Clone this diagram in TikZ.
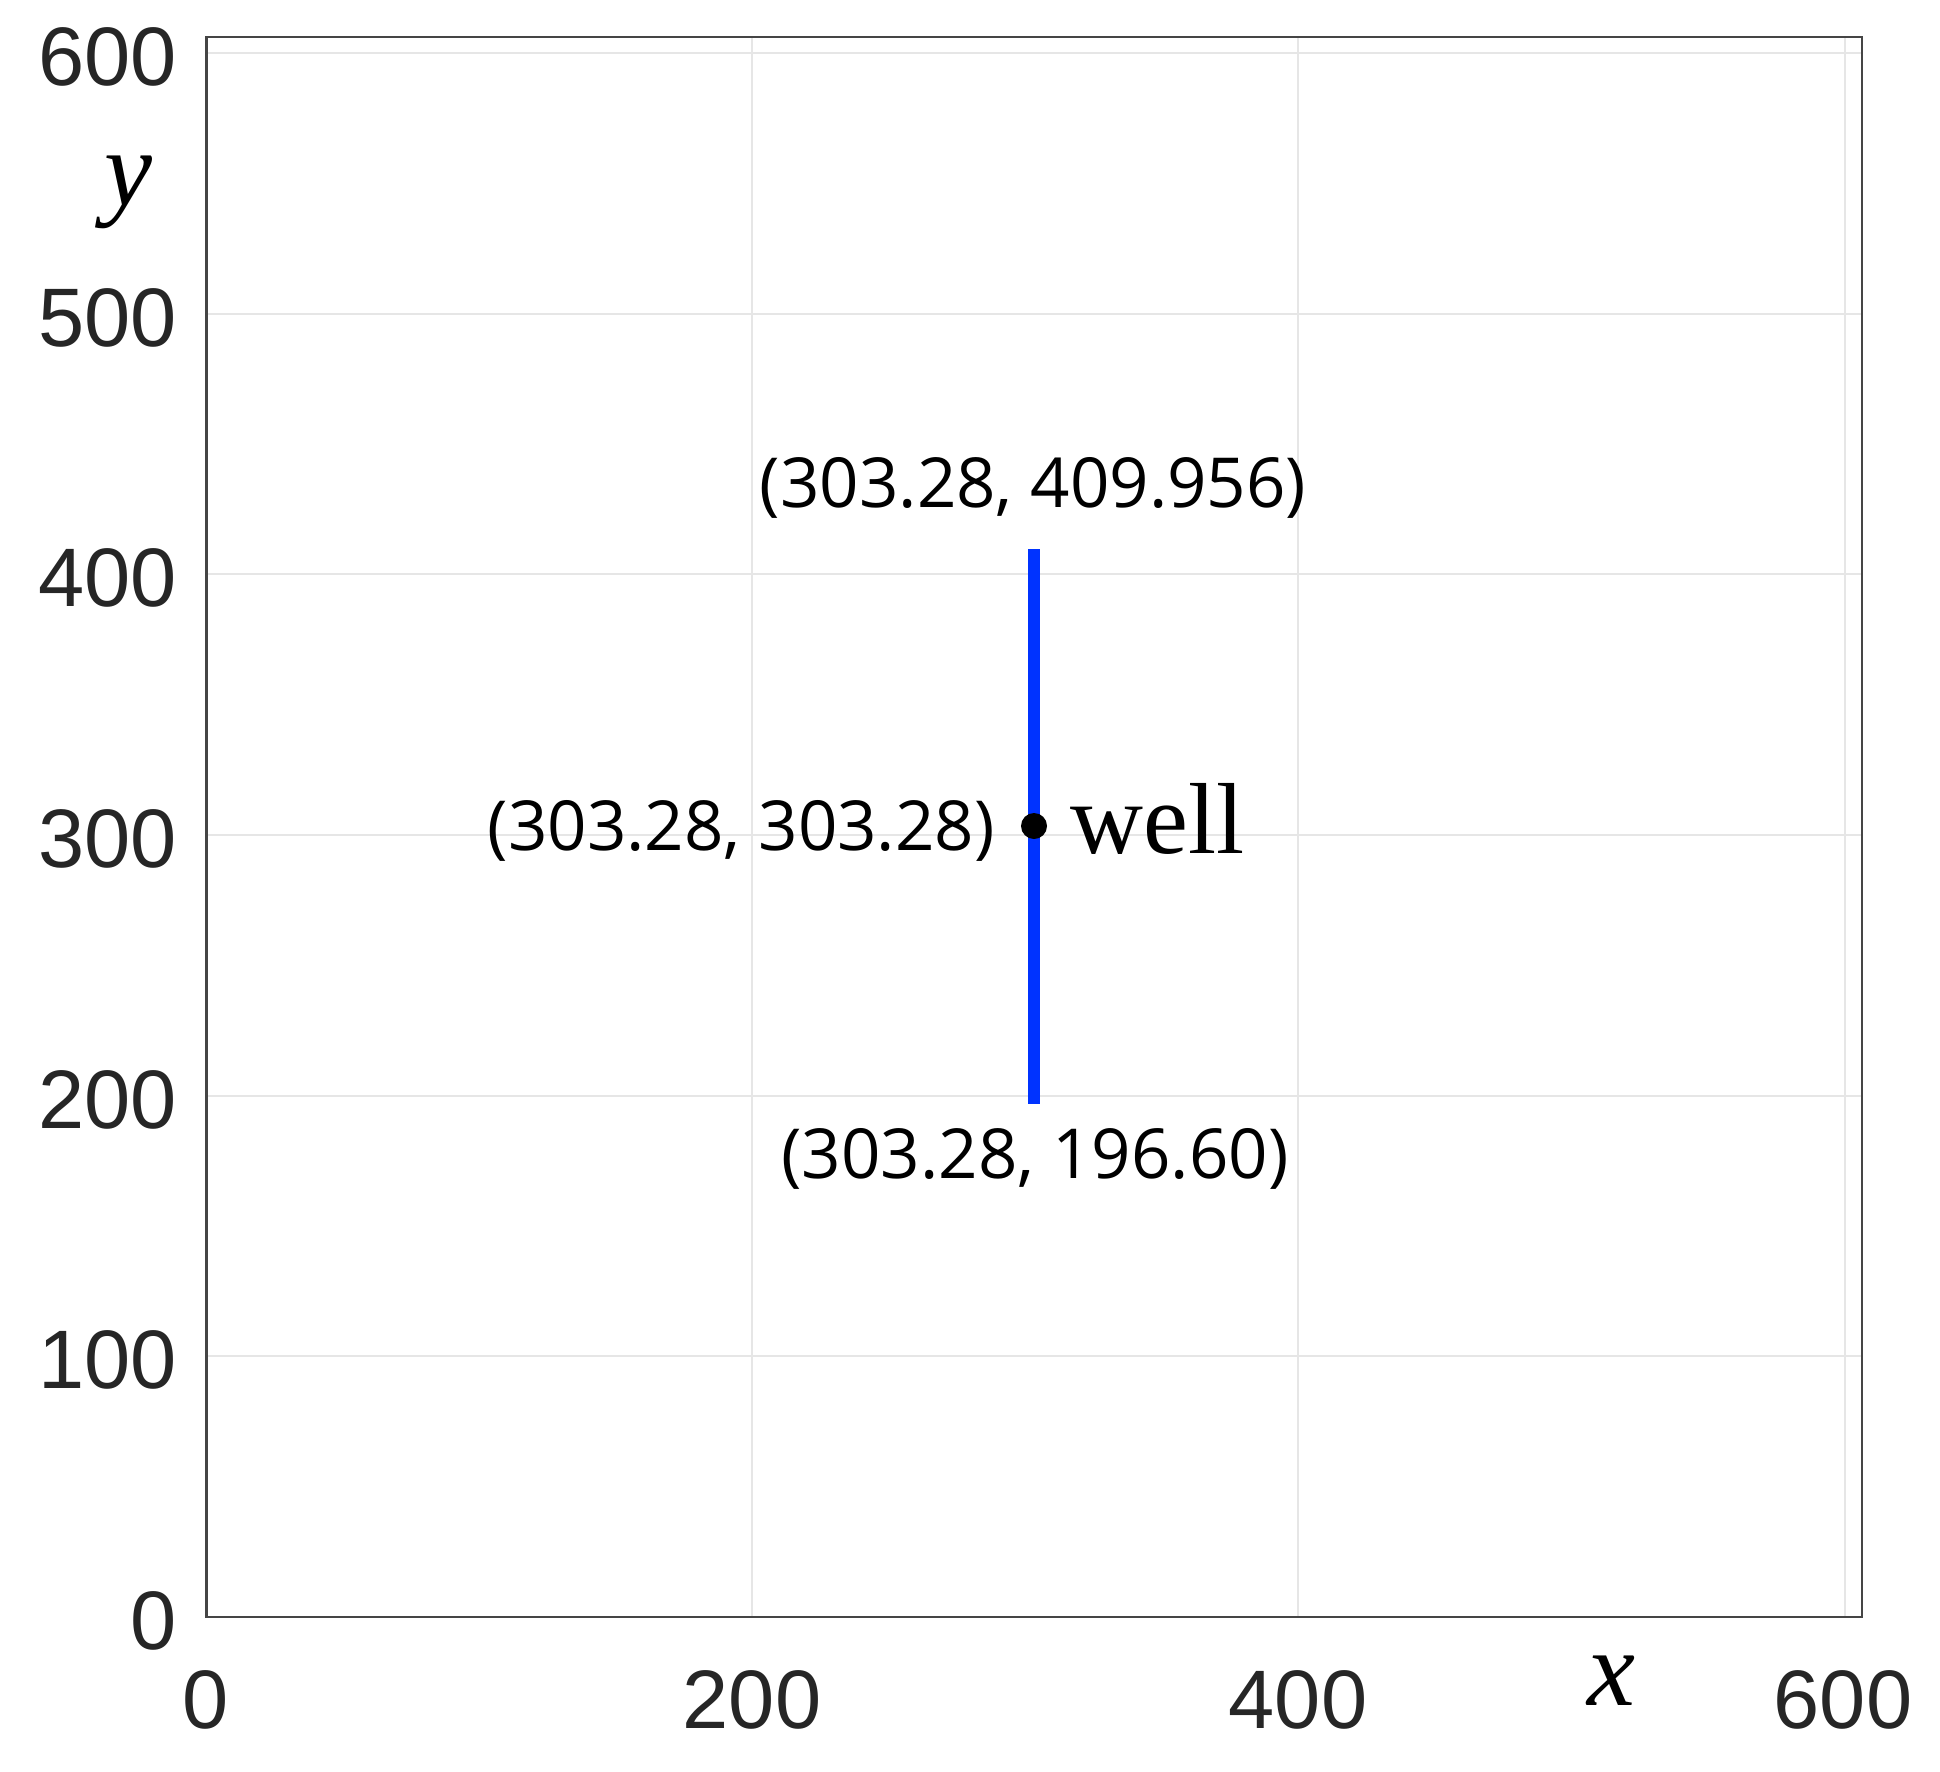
\documentclass[tikz,border=0pt]{standalone}
\usepackage{fontspec}
\setmainfont{Liberation Serif}
\newfontfamily\ticksfont{Liberation Sans}
\newfontfamily\labfont{Open Sans}
\definecolor{gridgray}{HTML}{E6E6E6}
\definecolor{framegray}{HTML}{454545}
\definecolor{ticktext}{HTML}{262626}
\definecolor{wellblue}{HTML}{0033FF}
\tikzset{
  gridline/.style={draw=gridgray, line width=1pt},
  frameline/.style={draw=framegray, line width=1.1pt},
  ticklab/.style={inner sep=0pt, text=ticktext, font=\ticksfont\fontsize{41.5}{48}\selectfont},
  coordlab/.style={inner sep=0pt, text=black, font=\labfont\fontsize{34.5}{40}\selectfont},
  axislab/.style={inner sep=0pt, font=\fontsize{54}{60}\selectfont\itshape},
  welllab/.style={inner sep=0pt, font=\fontsize{50.5}{56}\selectfont},
  wellline/.style={draw=wellblue, line width=6pt},
}
\begin{document}
\begin{tikzpicture}[x=0.5pt,y=-0.5pt]
\useasboundingbox (0,0) rectangle (1940,1772);
% grid
\foreach \gx in {752,1298,1845} \draw[gridline] (\gx,37) -- (\gx,1617);
\foreach \gy in {1356,1096,835,574,314,53} \draw[gridline] (206.5,\gy) -- (1862,\gy);
% frame
\draw[frameline] (206.5,37) rectangle (1862,1617);
% y tick labels
\foreach \gy/\lab in {1617/0,1356/100,1096/200,835/300,574/400,314/500,53/600}
  \node[ticklab, anchor=east] (yt\lab) at (177,\gy+4) {\lab};
% x tick labels
\foreach \gx/\lab in {206/0,752/200,1298/400,1843/600}
  \node[ticklab] (xt\lab) at (\gx,1700) {\lab};
% axis labels
\node[axislab] (ylab) at (128,192) {y};
\node[axislab] (xlab) at (1611,1681) {x};
% well
\coordinate (wtop) at (1034,549);
\coordinate (wbot) at (1034,1104);
\draw[wellline] (wtop) -- (wbot);
\node[circle, fill=black, inner sep=0pt, minimum size=13pt] (well) at (1034,826) {};
\node[welllab, anchor=base west] (welltxt) at (1070,853) {well};
\node[coordlab, anchor=base] (toplab) at (1033,507) {(303.28, 409.956)};
\node[coordlab, anchor=base east] (midlab) at (995,850) {(303.28, 303.28)};
\node[coordlab, anchor=base] (botlab) at (1035,1178) {(303.28, 196.60)};
\end{tikzpicture}
\end{document}
